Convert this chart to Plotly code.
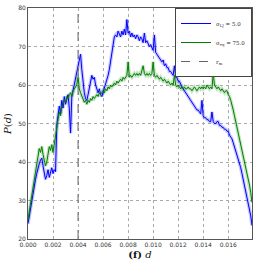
import plotly.graph_objects as go

d = [i / 10000 for i in range(180)]  # sample positions 0.0000 ... 0.0179

p_blue = [
    24.0, 26.0, 28.5, 30.0, 32.0, 33.5, 35.5, 37.0, 38.5, 39.5,
    40.5, 41.0, 39.0, 37.0, 35.5, 36.5, 38.0, 36.0, 37.5, 38.5,
    37.0, 38.0, 37.5, 49.5, 52.0, 54.5, 52.5, 56.0, 54.0, 57.0,
    55.0, 56.5, 57.5, 54.0, 47.5, 57.0, 58.5, 60.5, 62.0, 63.5,
    65.0, 66.0, 68.0, 64.0, 60.5, 58.0, 56.5, 56.0, 57.5, 59.0,
    61.0, 62.5, 61.5, 62.0, 60.0, 59.0, 58.0, 59.0, 57.5, 57.0,
    58.0, 59.0, 60.0, 61.0, 62.5, 64.0, 66.0, 68.5, 71.0, 72.5,
    73.0, 72.5, 74.0, 73.0, 72.5, 74.0, 73.0, 74.5, 73.0, 77.0,
    73.5, 74.0, 72.5, 73.5, 72.5, 73.0, 72.0, 73.0, 72.5, 71.5,
    72.5, 72.0, 71.0, 73.5, 71.0, 71.5, 70.5, 70.0, 70.5, 69.5,
    69.0, 73.0, 68.5, 68.0, 67.5, 67.0, 66.5, 66.0, 66.5, 65.0,
    65.5, 64.5, 64.5, 63.5, 63.5, 63.0, 62.5, 65.0, 62.0, 62.0,
    61.0, 61.0, 60.0, 59.5, 59.0, 58.5, 58.0, 57.5, 57.0, 56.5,
    56.0, 55.5, 55.0, 54.5, 54.0, 53.5, 53.5, 53.0, 52.5, 56.0,
    52.0, 51.5, 51.5, 51.0, 51.0, 50.5, 50.5, 53.0, 50.5, 50.0,
    50.0, 50.5, 50.5, 49.5, 49.5, 49.0, 49.0, 48.5, 48.5, 48.0,
    48.0, 47.0, 46.5, 46.0, 45.0, 44.0, 43.0, 42.0, 40.5, 39.5,
    38.5, 37.0, 35.5, 34.0, 32.5, 31.0, 29.5, 28.0, 26.0, 23.5,
]

p_green = [
    25.0, 27.0, 29.0, 31.0, 33.5, 35.0, 37.0, 39.0, 41.0, 43.5,
    42.5, 44.0, 42.0, 40.5, 39.0, 40.0, 42.0, 44.0, 43.0, 44.5,
    42.5, 45.0, 47.0, 49.0, 51.0, 53.0, 52.0, 54.5, 55.0, 56.0,
    55.5, 57.0, 56.5, 57.5, 58.0, 57.0, 58.5, 59.0, 59.5, 60.0,
    62.0, 59.0, 58.0, 57.0, 56.5, 55.5, 56.0, 55.0, 56.0, 55.5,
    56.5, 56.0, 57.0, 56.5, 57.0, 57.5, 57.0, 58.0, 57.5, 58.0,
    58.5, 58.0, 59.0, 58.5, 59.5, 59.0, 60.0, 59.5, 60.0, 60.5,
    60.0, 61.0, 60.5, 61.0, 61.5, 61.0, 62.0, 61.5, 62.0, 62.5,
    66.0, 62.0, 62.5, 62.0, 62.5, 63.0, 62.5, 63.0, 62.5, 63.0,
    62.5, 63.5, 65.0, 63.0, 62.5, 63.0, 62.5, 63.0, 62.5, 63.0,
    66.0, 62.5, 62.0, 62.5, 62.0, 61.5, 62.0, 61.5, 61.0, 61.5,
    61.0, 60.5, 61.0, 60.5, 60.0, 60.5, 60.0, 62.5, 60.0, 59.5,
    60.0, 59.5, 59.0, 59.5, 59.0, 59.5, 59.0, 59.0, 59.5, 59.0,
    59.0, 58.5, 59.0, 59.5, 59.0, 58.5, 59.0, 59.5, 59.0, 59.5,
    59.0, 59.5, 59.0, 60.0, 59.5, 59.0, 59.5, 59.0, 63.0, 60.0,
    59.5, 59.0, 59.5, 59.0, 58.5, 59.0, 58.5, 58.0, 58.5, 58.5,
    57.5, 57.0, 56.0, 55.0, 53.5, 52.0, 50.5, 49.0, 47.5, 46.5,
    45.0, 43.5, 42.0, 40.5, 39.0, 37.5, 35.5, 34.0, 32.0, 29.5,
]

r_m = 0.004
x_ticks = [0.000, 0.002, 0.004, 0.006, 0.008, 0.010, 0.012, 0.014, 0.016]
x_tick_labels = ["0.000", "0.002", "0.004", "0.006", "0.008", "0.010", "0.012", "0.014", "0.016"]
y_ticks = [20, 30, 40, 50, 60, 70, 80]

names = ["σ<sub>LJ</sub> = 5.0", "σ<sub>eq</sub> = 75.0", "r<sub>m</sub>"]

fig = go.Figure()
# halo layers
fig.add_trace(go.Scatter(x=d, y=p_blue, mode="lines", line=dict(color="rgba(0,0,255,0.22)", width=3.5),
                         showlegend=False, hoverinfo="skip"))
fig.add_trace(go.Scatter(x=d, y=p_green, mode="lines", line=dict(color="rgba(0,128,0,0.22)", width=3.5),
                         showlegend=False, hoverinfo="skip"))
fig.add_trace(go.Scatter(x=d, y=p_blue, mode="lines", name=names[0], line=dict(color="#0000ff", width=1)))
fig.add_trace(go.Scatter(x=d, y=p_green, mode="lines", name=names[1], line=dict(color="#008000", width=1)))
fig.add_trace(go.Scatter(x=[r_m, r_m], y=[20, 80], mode="lines", name=names[2],
                         line=dict(color="#666666", width=1, dash="dash")))

axis_common = dict(showline=True, linecolor="#555555", linewidth=1, mirror=True,
                   showgrid=True, gridcolor="#aaaaaa", griddash="dot", gridwidth=1,
                   zeroline=False, ticks="", automargin=False,
                   tickfont=dict(size=6, color="#333333", family="DejaVu Sans"))

fig.update_layout(
    width=266, height=266,
    margin=dict(l=28, r=14, t=8, b=27),
    paper_bgcolor="white", plot_bgcolor="white",
    xaxis=dict(range=[0, 0.0179], tickvals=x_ticks, ticktext=x_tick_labels,
               title=dict(text="<b>(f)</b> <i>d</i>", font=dict(size=10, family="DejaVu Serif", color="#111111"),
                          standoff=3),
               **axis_common),
    yaxis=dict(range=[20, 80], tickvals=y_ticks,
               title=dict(text="<i>P</i>(<i>d</i>)", font=dict(size=10, family="DejaVu Serif", color="#111111"),
                          standoff=4),
               **axis_common),
    legend=dict(x=1, y=1, xanchor="right", yanchor="top", bgcolor="white",
                bordercolor="#444444", borderwidth=1, font=dict(size=5.5, family="DejaVu Serif", color="#333"),
                itemwidth=30, tracegroupgap=0),
    showlegend=True,
)

fig.write_html("out.html", config={"displayModeBar": False},
               post_script="document.body.style.margin='0';document.body.style.padding='0';document.body.style.overflow='hidden';")
